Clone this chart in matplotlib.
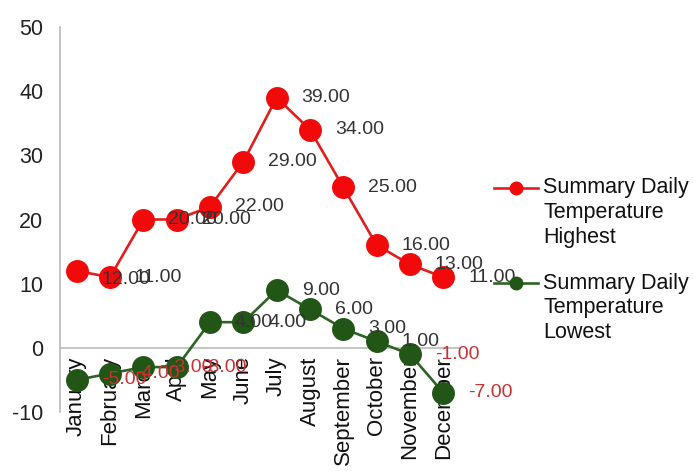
import matplotlib
matplotlib.use("Agg")
import matplotlib.pyplot as plt
from matplotlib.lines import Line2D

plt.rcParams['font.family'] = ['Liberation Sans', 'DejaVu Sans']
plt.rcParams['axes.unicode_minus'] = False

months = ["January", "February", "March", "April", "May", "June", "July",
          "August", "September", "October", "November", "December"]
highest = [12, 11, 20, 20, 22, 29, 39, 34, 25, 16, 13, 11]
lowest = [-5, -4, -3, -3, 4, 4, 9, 6, 3, 1, -1, -7]
yticks = [-10, 0, 10, 20, 30, 40, 50]
legend_high = ["Summary Daily", "Temperature", "Highest"]
legend_low = ["Summary Daily", "Temperature", "Lowest"]

red_line, red_mark = "#e01e1e", "#f20a0a"
green_line, green_mark = "#2e6422", "#215616"
axis_gray = "#bfbfbf"

fig = plt.figure(figsize=(6.94, 4.71), dpi=100)
ax = fig.add_axes([60 / 694, 1 - 412 / 471, 400 / 694, 385 / 471])

# spines first: moving a spine resets the ticks
for s in ("top", "right"):
    ax.spines[s].set_visible(False)
ax.spines["bottom"].set_position(("data", 0))
ax.spines["bottom"].set_color(axis_gray)
ax.spines["left"].set_color(axis_gray)
ax.spines["bottom"].set_linewidth(1.3)
ax.spines["left"].set_linewidth(1.3)

x = list(range(len(months)))
ax.plot(x, highest, color=red_line, lw=1.9, marker="o", ms=15.5,
        mfc=red_mark, mec=red_mark, zorder=3)
ax.plot(x, lowest, color=green_line, lw=1.9, marker="o", ms=15.5,
        mfc=green_mark, mec=green_mark, zorder=3)

# data labels, Excel style: to the right of each point
for series in (highest, lowest):
    for i, v in enumerate(series):
        col = "#c83232" if v < 0 else "#333333"
        dy = -6 if (series is highest and i == 0) else 0
        ax.annotate(f"{v:.2f}", (i, v), xytext=(18, dy), textcoords="offset points",
                    ha="left", va="center", fontsize=14, color=col, zorder=5,
                    annotation_clip=False)

ax.set_xlim(-0.5, 11.5)
ax.set_ylim(-10, 50)
ax.set_yticks(yticks)
ax.set_xticks(x)
ax.set_xticklabels(months, rotation=90, fontsize=16, color="#111111")
ax.tick_params(axis="x", length=0, pad=6)
ax.tick_params(axis="y", length=0, pad=12, labelsize=15.5, labelcolor="#222222")

# legend, handle aligned with the first text line
def legend_entry(y_px, color_line, color_mark, lines):
    yf = 1 - y_px / 471
    fig.add_artist(Line2D([494 / 694, 538 / 694], [yf, yf], color=color_line, lw=1.9))
    fig.add_artist(Line2D([516 / 694], [yf], marker="o", ms=9, color=color_mark))
    for k, t in enumerate(lines):
        fig.text(543 / 694, 1 - (y_px + 24.5 * k) / 471, t, fontsize=15.5,
                 ha="left", va="center", color="#111111")

legend_entry(188, red_line, red_mark, legend_high)
legend_entry(283, green_line, green_mark, legend_low)

fig.savefig("out.png", dpi=100)
